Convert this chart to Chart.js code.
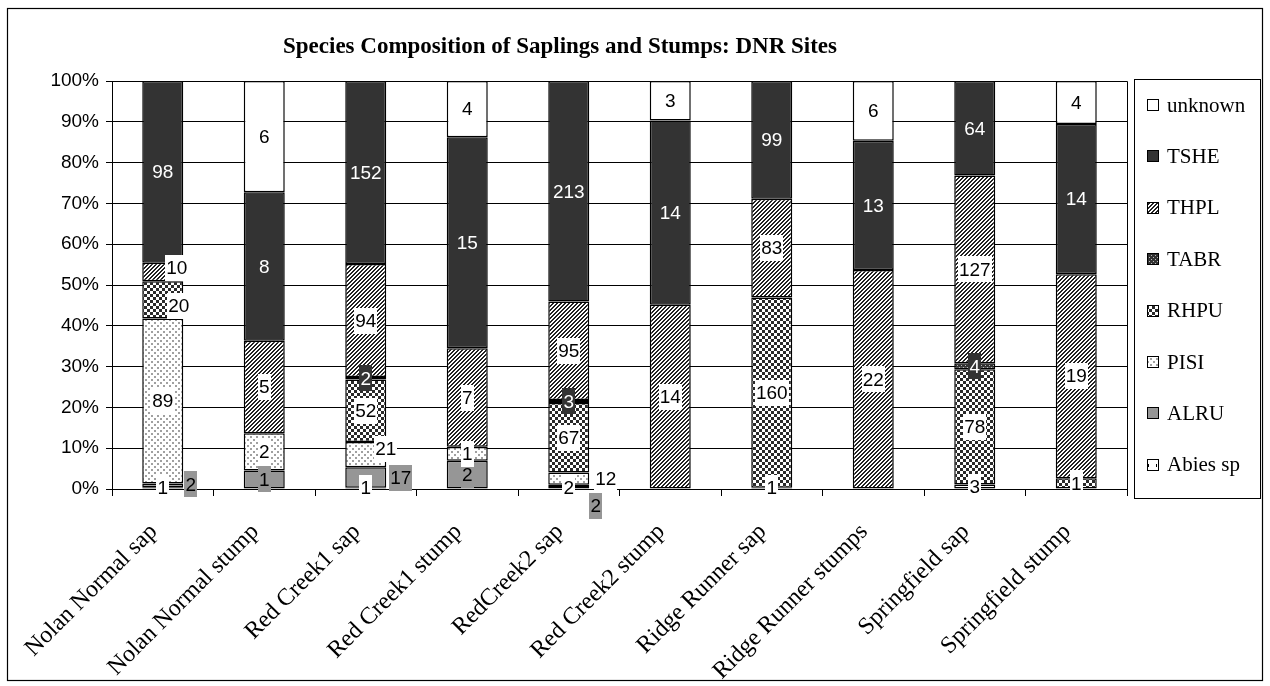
<!DOCTYPE html>
<html><head><meta charset="utf-8">
<script src="https://cdn.jsdelivr.net/npm/chart.js@4.4.1/dist/chart.umd.min.js"></script>
<style>html,body{margin:0;padding:0;background:#fff}#wrap{width:1270px;height:686px;position:relative}canvas{display:block}</style>
</head><body><div id="wrap"><canvas id="c" width="1270" height="686"></canvas></div>
<script>
// ---------- data ----------
const categories = ['Nolan Normal sap','Nolan Normal stump','Red Creek1 sap','Red Creek1 stump','RedCreek2 sap','Red Creek2 stump','Ridge Runner sap','Ridge Runner stumps','Springfield sap','Springfield stump'];
const seriesNames = ['Abies sp','ALRU','PISI','RHPU','TABR','THPL','TSHE','unknown'];
const abiesSp = [1,0,1,0,2,0,1,0,3,0];
const alru    = [2,1,17,2,2,0,0,0,0,0];
const pisi    = [89,2,21,1,12,0,0,0,0,0];
const rhpu    = [20,0,52,0,67,0,160,0,78,1];
const tabr    = [0,0,2,0,3,0,0,0,4,0];
const thpl    = [10,5,94,7,95,14,83,22,127,19];
const tshe    = [98,8,152,15,213,14,99,13,64,14];
const unknown = [0,6,0,4,0,3,0,6,0,4];
const yTickLabels = ['0%','10%','20%','30%','40%','50%','60%','70%','80%','90%','100%'];
const titleText = 'Species Composition of Saplings and Stumps: DNR Sites';

const counts = [abiesSp, alru, pisi, rhpu, tabr, thpl, tshe, unknown];
const totals = categories.map((_, j) => counts.reduce((s, a) => s + a[j], 0));
const percents = counts.map(a => a.map((v, j) => v / totals[j] * 100));

// ---------- styles ----------
const canvas = document.getElementById('c');
const ctx = canvas.getContext('2d');
function tile(w, h, bg, fn) {
  const c = document.createElement('canvas'); c.width = w; c.height = h;
  const g = c.getContext('2d'); g.fillStyle = bg; g.fillRect(0, 0, w, h); fn(g);
  return ctx.createPattern(c, 'repeat');
}
const pDiag = tile(4, 4, '#ffffff', g => { g.fillStyle = '#222'; for (let y = 0; y < 4; y++) { const x = (3 - y + 4) % 4; g.fillRect(x, y, 1, 1); g.fillRect((x + 1) % 4, y, 1, 1); } });
const pChecker = tile(6, 6, '#ffffff', g => { g.fillStyle = '#2a2a2a'; g.fillRect(0, 0, 3, 3); g.fillRect(3, 3, 3, 3); });
const pDots = tile(6, 6, '#ffffff', g => { g.fillStyle = '#a0a0a0'; g.fillRect(1, 1, 2, 2); g.fillRect(4, 4, 2, 2); });
const pDarkDots = tile(4, 4, '#333333', g => { g.fillStyle = '#bbbbbb'; g.fillRect(1, 1, 1, 1); g.fillRect(3, 3, 1, 1); });
const pAbies = tile(8, 8, '#ffffff', g => { g.fillStyle = '#000'; g.fillRect(4, 0, 1, 3); });
const fills = [pAbies, '#969696', pDots, pChecker, pDarkDots, pDiag, '#333333', '#ffffff'];
// label box colours / text colours by series
const labelBg   = ['#ffffff', '#969696', '#ffffff', '#ffffff', '#333333', '#ffffff', null, '#ffffff'];
const labelText = ['#000', '#000', '#000', '#000', '#fff', '#000', '#fff', '#000'];
// manual label offsets (series index|category index) as in the original
const labelNudge = { '5|0': [14, -4], '3|0': [16, 6], '1|0': [28, -1], '2|2': [20, -6], '1|2': [35, 0], '2|4': [37, 0], '1|4': [27, 20] };

const dataLabels = {
  id: 'dataLabels',
  afterDatasetsDraw(chart) {
    const c = chart.ctx;
    c.save();
    c.font = '19px "Liberation Sans", Arial, sans-serif';
    c.textAlign = 'center'; c.textBaseline = 'middle';
    chart.data.datasets.forEach((ds, i) => {
      const meta = chart.getDatasetMeta(i);
      meta.data.forEach((el, j) => {
        const v = counts[i][j];
        if (!v) return;
        const n = labelNudge[i + '|' + j] || [0, 0];
        const x = el.x + n[0], y = (el.y + el.base) / 2 + n[1];
        const t = String(v), tw = c.measureText(t).width;
        if (labelBg[i]) { c.fillStyle = labelBg[i]; c.fillRect(Math.round(x - tw / 2 - 1), Math.round(y - 13), Math.round(tw + 2), 26); }
        c.fillStyle = labelText[i];
        c.fillText(t, x, y + 1);
      });
    });
    c.restore();
  }
};

const decorations = {
  id: 'decorations',
  beforeDraw(chart) {
    const c = chart.ctx;
    c.save(); c.fillStyle = '#fff'; c.fillRect(0, 0, chart.width, chart.height); c.restore();
  },
  afterDraw(chart) {
    const c = chart.ctx, a = chart.chartArea;
    c.save();
    // outer frame
    c.strokeStyle = '#000'; c.lineWidth = 1.2;
    c.strokeRect(7.5, 8.5, 1255, 672);
    // plot area right/top edge
    c.lineWidth = 1; c.strokeStyle = '#000';
    c.beginPath(); c.moveTo(a.left, a.top + 0.5); c.lineTo(a.right + 0.5, a.top + 0.5); c.lineTo(a.right + 0.5, a.bottom); c.stroke();
    // title
    c.fillStyle = '#000'; c.font = 'bold 23px "Liberation Serif", "Times New Roman", serif';
    c.textAlign = 'center'; c.textBaseline = 'middle';
    c.fillText(titleText, 560, 47);
    // legend
    const lx = 1134.5, ly = 79.5, lw = 126, lh = 419;
    c.strokeRect(lx, ly, lw, lh);
    c.font = '21px "Liberation Serif", "Times New Roman", serif';
    c.textAlign = 'left';
    const n = chart.data.datasets.length;
    for (let k = 0; k < n; k++) {
      const i = n - 1 - k, ds = chart.data.datasets[i];
      const cy = 105 + k * 51.4;
      c.fillStyle = ds.backgroundColor; c.fillRect(1147, Math.round(cy - 6), 12, 12);
      c.strokeStyle = '#000'; c.lineWidth = 1; c.strokeRect(1147.5, Math.round(cy - 6) + 0.5, 11, 11);
      c.fillStyle = '#000'; c.fillText(ds.label, 1167, cy + 1);
    }
    c.restore();
  }
};

new Chart(ctx, {
  type: 'bar',
  data: {
    labels: categories,
    datasets: seriesNames.map((name, i) => ({
      label: name, data: percents[i], backgroundColor: fills[i],
      borderColor: '#000', borderWidth: 1.5, borderSkipped: false,
      barPercentage: 0.404, categoryPercentage: 1
    }))
  },
  options: {
    responsive: false, animation: false,
    layout: { padding: { left: 10, right: 143, top: 81, bottom: 0 } },
    plugins: { legend: { display: false }, tooltip: { enabled: false }, title: { display: false } },
    scales: {
      x: {
        stacked: true,
        grid: { offset: true, drawOnChartArea: false, color: '#000', tickLength: 7 },
        border: { color: '#000', width: 1 },
        ticks: { minRotation: 45, maxRotation: 45, autoSkip: false, color: '#000', padding: 22, labelOffset: -9,
                 font: { family: '"Liberation Serif", "Times New Roman", serif', size: 24 } },
        afterFit(s) { s.height = 197; }
      },
      y: {
        stacked: true, min: 0, max: 100,
        ticks: { stepSize: 10, color: '#000', padding: 7, callback: (v, idx) => yTickLabels[idx],
                 font: { family: '"Liberation Sans", Arial, sans-serif', size: 19 } },
        grid: { color: '#000', tickLength: 6, lineWidth: 1 },
        border: { color: '#000', width: 1 },
        afterFit(s) { s.width = 102; }
      }
    }
  },
  plugins: [decorations, dataLabels]
});
</script></body></html>
